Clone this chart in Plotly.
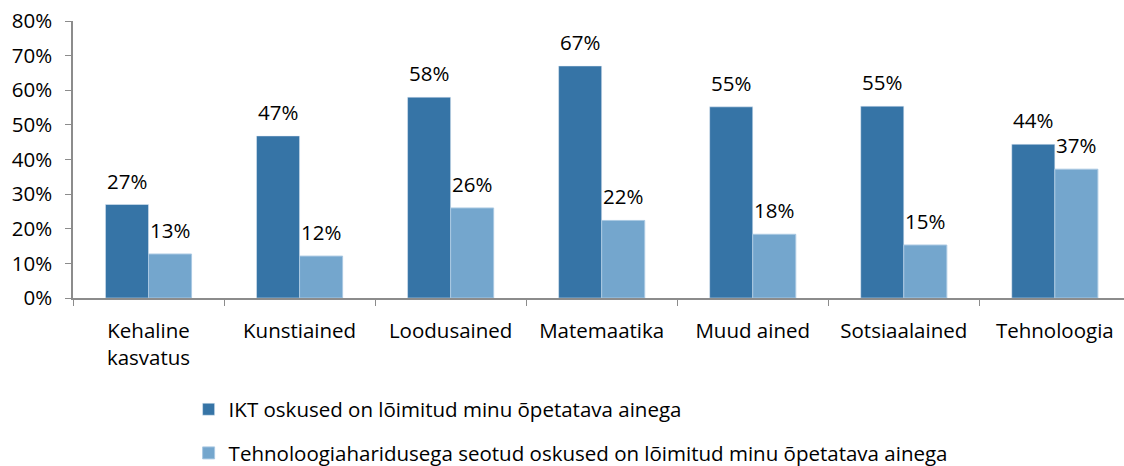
import plotly.graph_objects as go

categories = ["Kehaline<br>kasvatus", "Kunstiained", "Loodusained", "Matemaatika",
              "Muud ained", "Sotsiaalained", "Tehnoloogia"]
ikt = [27.0, 46.8, 58.0, 67.0, 55.2, 55.4, 44.4]
tehno = [12.7, 12.1, 26.0, 22.4, 18.4, 15.3, 37.2]
series_names = ["IKT oskused on lõimitud minu õpetatava ainega",
                "Tehnoloogiaharidusega seotud oskused on lõimitud minu õpetatava ainega"]
y_ticks = [0, 10, 20, 30, 40, 50, 60, 70, 80]
y_tick_labels = [f"{v}%" for v in y_ticks]

FONT = "Open Sans"
FS = 20.5
dark = "#3674A6"
light = "#74A6CD"
axis_col = "#8C8C8C"

fig = go.Figure()
fig.add_trace(go.Bar(x=categories, y=ikt, name=series_names[0], marker_color=dark,
                     legendgroup="a"))
fig.add_trace(go.Bar(x=categories, y=tehno, name=series_names[1], marker_color=light,
                     marker_line=dict(color="#A9C8E2", width=1), legendgroup="b"))

bargap = 0.43
half = (1 - bargap) / 4
annotations = []
for i, (a, b) in enumerate(zip(ikt, tehno)):
    for val, off in ((a, -half), (b, half)):
        annotations.append(dict(x=i + off, y=val, xref="x", yref="y", text=f"{val:.0f}%",
                                showarrow=False, yshift=24, yanchor="middle",
                                font=dict(family=FONT, size=FS, color="#000")))

fig.update_layout(
    width=1124, height=466,
    margin=dict(l=73, r=0, t=21, b=168, autoexpand=False),
    paper_bgcolor="white", plot_bgcolor="white",
    barmode="group", bargap=bargap, bargroupgap=0,
    font=dict(family=FONT, size=FS, color="#000"),
    annotations=annotations,
    showlegend=True,
    legend=dict(x=0.110, xanchor="left", y=-0.33, yanchor="top",
                traceorder="grouped", tracegroupgap=14,
                font=dict(family=FONT, size=FS, color="#000"),
                bgcolor="rgba(0,0,0,0)"),
)
fig.update_xaxes(range=[-0.5, 6.458], showline=True, linecolor=axis_col, linewidth=1.5,
                 ticks="outside", tickson="boundaries", ticklen=6, tickcolor=axis_col,
                 ticklabelstandoff=14, showgrid=False, zeroline=False, automargin=False)
fig.update_yaxes(range=[0, 80], tickvals=y_ticks, ticktext=y_tick_labels, showline=True,
                 linecolor=axis_col, linewidth=1.5, ticks="outside", ticklen=6,
                 tickcolor=axis_col, ticklabelstandoff=9, showgrid=False, zeroline=False,
                 automargin=False)

fig.write_html("out.html", config={"displayModeBar": False},
               post_script="document.body.style.margin='0';")
